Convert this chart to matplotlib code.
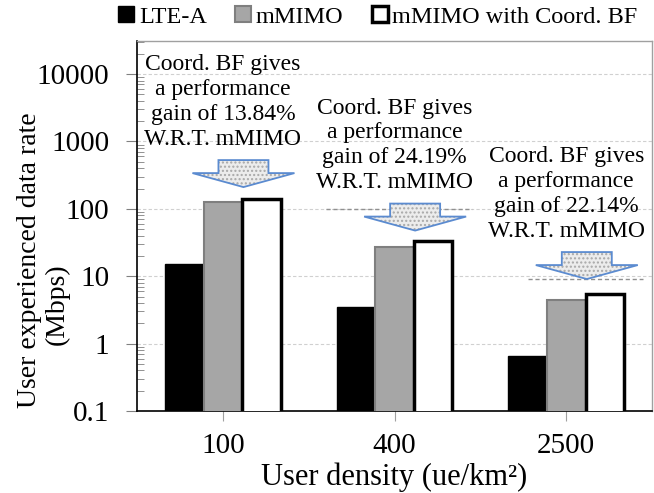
import numpy as np
import matplotlib
matplotlib.use("Agg")
import matplotlib.pyplot as plt
import matplotlib.transforms as mtransforms
from matplotlib.patches import Polygon

plt.rcParams['font.family'] = ['Liberation Serif', 'DejaVu Serif']

# data
densities = ['100', '400', '2500']
lte_a = [15, 3.5, 0.65]
mmimo = [125, 27, 4.5]
mmimo_bf = [142, 33.5, 5.5]
gains = ['13.84%', '24.19%', '22.14%']

x = np.arange(len(densities))
w = 0.225

fig = plt.figure(figsize=(6.54, 4.93), dpi=100)
ax = fig.add_axes([0.2095, 0.1663, 0.7875, 0.7505])

ax.bar(x - w, lte_a, w, color='black', edgecolor='black', lw=1, label='LTE-A', zorder=3)
ax.bar(x, mmimo, w, color='#a6a6a6', edgecolor='#7f7f7f', lw=1.5, label='mMIMO', zorder=3)
ax.bar(x + w, mmimo_bf, w, color='white', edgecolor='black', lw=2.5,
       label='mMIMO with Coord. BF', zorder=3)

ax.set_yscale('log')
ax.set_ylim(0.1, 10 ** 4.49)
ax.set_xlim(-0.5, 2.5)
ax.set_yticks([0.1, 1, 10, 100, 1000, 10000])
ax.set_yticklabels(['0.1', '1', '10', '100', '1000', '10000'])
ax.set_xticks(x)
ax.set_xticklabels(densities)
ax.tick_params(axis='y', which='major', direction='out', length=8, color='#808080',
               labelsize=21, pad=12)
ax.tick_params(axis='y', which='minor', direction='in', length=5, color='#808080')
ax.tick_params(axis='x', direction='out', length=7, color='#a0a0a0', labelsize=21, pad=9)
ax.grid(axis='y', which='major', ls=(0, (3, 2)), color='#d0d0d0', lw=0.8, zorder=0)

for s in ['top', 'right']:
    ax.spines[s].set_color('#a0a0a0')
    ax.spines[s].set_linewidth(1)
for s in ['left', 'bottom']:
    ax.spines[s].set_color('black')
    ax.spines[s].set_linewidth(1.2)

ax.set_xlabel('User density (ue/km²)', fontsize=22, labelpad=2)
fig.text(0.045, 1 - 260 / 493, 'User experienced data rate', rotation=90,
         fontsize=20, ha='center', va='center')
fig.text(0.087, 1 - 304 / 493, '(Mbps)', rotation=90,
         fontsize=20, ha='center', va='center')

ax.legend(loc='center', bbox_to_anchor=(0.578, 0.966), bbox_transform=fig.transFigure,
          ncol=3, frameon=False, fontsize=17.5, handlelength=0.66, handleheight=0.66,
          handletextpad=0.2, columnspacing=1.15, borderaxespad=0)

# block arrows ("Coord. BF gives ...")
tip_factor = [1.48, 1.42, 1.65]
arrow_px = np.array([[0, 0], [-51, 14], [-25, 14], [-25, 27], [25, 27],
                     [25, 14], [51, 14]]) / 100.0
for i in range(len(densities)):
    tx = x[i] + 0.12
    ty = mmimo_bf[i] * tip_factor[i]
    tr = fig.dpi_scale_trans + mtransforms.ScaledTranslation(tx, ty, ax.transData)
    ax.add_patch(Polygon(arrow_px, closed=True, transform=tr, facecolor='#ececec',
                         edgecolor='#a8a8a8', hatch='....', lw=0, zorder=5))
    ax.add_patch(Polygon(arrow_px, closed=True, transform=tr, facecolor='none',
                         edgecolor='#5b8bd0', lw=1.3, zorder=6))
    ax.annotate('Coord. BF gives\na performance\ngain of %s\nW.R.T. mMIMO' % gains[i],
                xy=(x[i], ty), xytext=(0, 27), textcoords='offset points',
                ha='center', va='bottom', fontsize=17, linespacing=1.24, zorder=7)

# dashed reference lines
ax.plot([x[1] - 0.4, x[1] + 0.45], [100, 100], ls=(0, (3, 2)), color='#909090', lw=1, zorder=4)
ax.plot([x[2] - 0.22, x[2] + 0.45], [mmimo_bf[2] * tip_factor[2]] * 2, ls=(0, (3, 2)),
        color='#909090', lw=1, zorder=4)

fig.savefig('out.png', dpi=100)
